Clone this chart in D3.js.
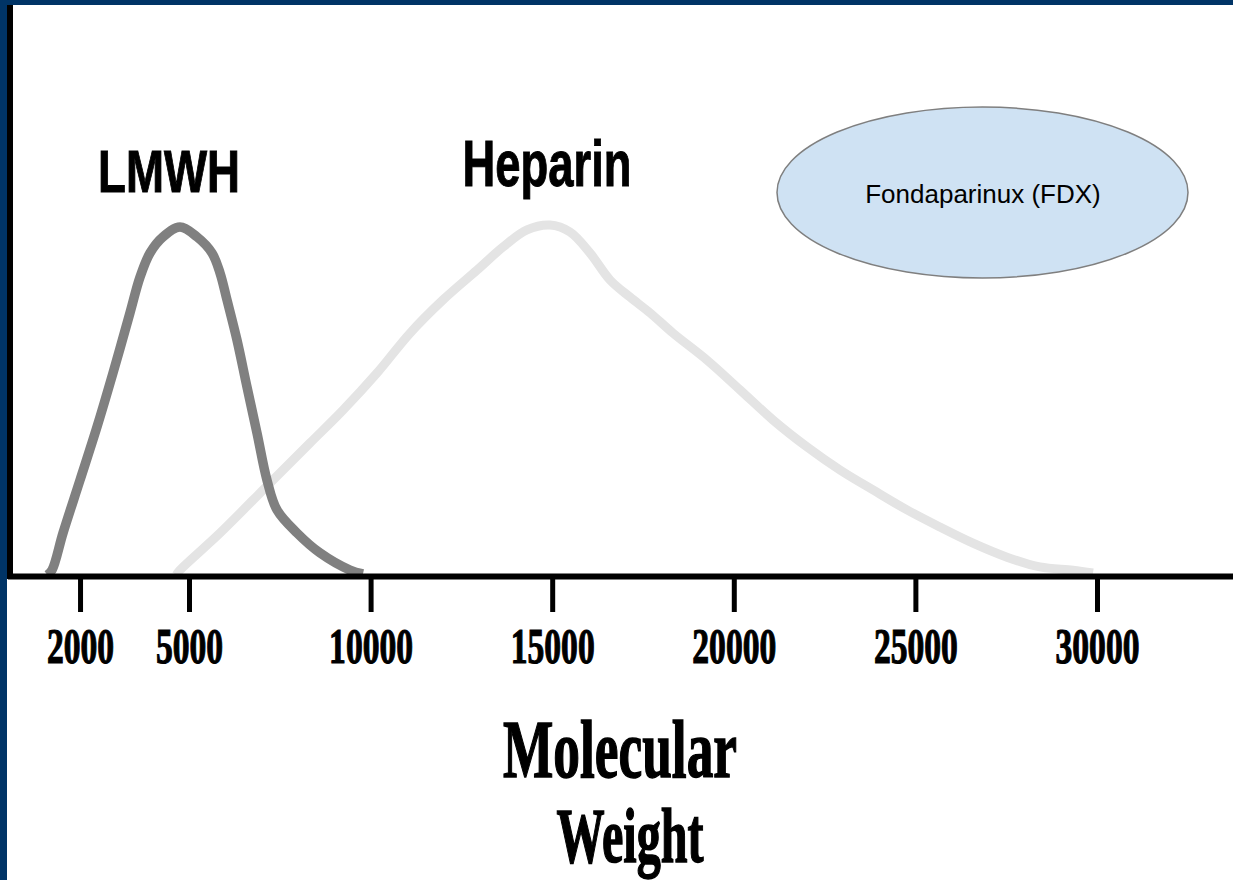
<!DOCTYPE html>
<html>
<head>
<meta charset="utf-8">
<script src="https://cdn.jsdelivr.net/npm/d3@7"></script>
<style>
  html, body { margin: 0; padding: 0; background: #fff; }
  svg { display: block; }
</style>
</head>
<body>
<svg id="chart" width="1233" height="880"></svg>
<script>
// ---- Data (molecular weight in Da, relative abundance 0-100) ----
const lmwhMW   = [1100, 1228, 1531, 1999, 2467, 2907, 3375, 3651, 3926, 4284, 4752, 5220, 5633, 5854, 6046, 6322, 6597, 6872, 7148, 7423, 7974, 8607, 9433, 9791];
const lmwhVal  = [0,    1.4,  12,   27.1, 42.3, 57.7, 74.9, 85.1, 92,   96.6, 99.4, 96.6, 92,   86.3, 78.6, 67.1, 53.7, 40.6, 27.1, 18.6, 12,   6.3,  1.4,  0.3];

const heparinMW  = [4650, 4752, 5854, 7230, 8331, 9240, 10176, 11085, 11993, 12929, 13645, 14306, 14939, 15490, 16041, 16592, 17142, 17693, 18326, 19262, 20171, 21079, 22015, 22924, 23833, 24769, 25677, 26586, 27522, 28431, 29339, 29890];
const heparinVal = [0,    1.4,  12,   26.3, 37.7, 47.1, 57.7,  69.1,  78.6,  87.1,  93.7,  98.6,  100,   98,    92,    84.3,  79.4,  74.9,  69.1,  61.4,  52.9,  44.3,  36.6,  30,    24.3,  18.6,  13.7,  9.1,   5.1,   2.3,   1.4,   0.6];

const tickValues = [2000, 5000, 10000, 15000, 20000, 25000, 30000];
const tickLabels = ["2000", "5000", "10000", "15000", "20000", "25000", "30000"];

const seriesNames = ["LMWH", "Heparin"];
const annotationText = "Fondaparinux (FDX)";
const axisTitle = ["Molecular", "Weight"];

// ---- Setup ----
const svg = d3.select("#chart");
const W = 1233, H = 880;

svg.append("rect").attr("width", W).attr("height", H).attr("fill", "#ffffff");
// navy frame (top and left)
svg.append("rect").attr("x", 0).attr("y", 0).attr("width", W).attr("height", 5).attr("fill", "#003466");
svg.append("rect").attr("x", 0).attr("y", 0).attr("width", 7).attr("height", H).attr("fill", "#003466");

const x = d3.scaleLinear().domain([0, 33745]).range([7.4, 1233]);
const y = d3.scaleLinear().domain([0, 100]).range([575, 225]);

const line = d3.line()
  .x(d => x(d[0]))
  .y(d => y(d[1]))
  .curve(d3.curveCatmullRom.alpha(0.5));

const hepData = heparinMW.map((m, i) => [m, heparinVal[i]]);
const lmwhData = lmwhMW.map((m, i) => [m, lmwhVal[i]]);

svg.append("path")
  .datum(hepData)
  .attr("d", line)
  .attr("fill", "none")
  .attr("stroke", "#e4e4e4")
  .attr("stroke-width", 9)
  .attr("stroke-linejoin", "round");

svg.append("path")
  .datum(lmwhData)
  .attr("d", line)
  .attr("fill", "none")
  .attr("stroke", "#808080")
  .attr("stroke-width", 9.5)
  .attr("stroke-linejoin", "round");

// vertical axis line
svg.append("line")
  .attr("x1", 10).attr("x2", 10)
  .attr("y1", 5).attr("y2", 579)
  .attr("stroke", "#000").attr("stroke-width", 6);

// bottom axis
const axis = d3.axisBottom(x)
  .tickValues(tickValues)
  .tickFormat((d, i) => tickLabels[i])
  .tickSize(36)
  .tickSizeOuter(0);

const gx = svg.append("g")
  .attr("transform", "translate(0,576)")
  .call(axis);

gx.select(".domain").attr("stroke", "#000").attr("stroke-width", 6);
gx.selectAll(".tick line").attr("stroke", "#000").attr("stroke-width", 5);
gx.selectAll(".tick text")
  .attr("y", 87)
  .attr("dy", 0)
  .attr("fill", "#000")
  .attr("stroke", "#000")
  .attr("stroke-width", 1.2)
  .attr("font-family", "'Liberation Serif', 'Times New Roman', serif")
  .attr("font-weight", "bold")
  .attr("font-size", 50)
  .attr("text-anchor", "middle")
  .attr("textLength", (d, i) => tickLabels[i].length * 16.8)
  .attr("lengthAdjust", "spacingAndGlyphs");

// axis title
svg.append("text")
  .attr("x", 620).attr("y", 777)
  .attr("text-anchor", "middle")
  .attr("font-family", "'Liberation Serif', 'Times New Roman', serif")
  .attr("font-weight", "bold")
  .attr("font-size", 82)
  .attr("stroke", "#000").attr("stroke-width", 1.5)
  .attr("textLength", 234)
  .attr("lengthAdjust", "spacingAndGlyphs")
  .text(axisTitle[0]);
svg.append("text")
  .attr("x", 630).attr("y", 862)
  .attr("text-anchor", "middle")
  .attr("font-family", "'Liberation Serif', 'Times New Roman', serif")
  .attr("font-weight", "bold")
  .attr("font-size", 78)
  .attr("stroke", "#000").attr("stroke-width", 1.5)
  .attr("textLength", 147)
  .attr("lengthAdjust", "spacingAndGlyphs")
  .text(axisTitle[1]);

// series labels
svg.append("text")
  .attr("x", 169).attr("y", 192)
  .attr("text-anchor", "middle")
  .attr("font-family", "'Liberation Sans', Arial, sans-serif")
  .attr("font-weight", "bold")
  .attr("font-size", 59)
  .attr("stroke", "#000").attr("stroke-width", 1)
  .attr("textLength", 142)
  .attr("lengthAdjust", "spacingAndGlyphs")
  .text(seriesNames[0]);
svg.append("text")
  .attr("x", 547).attr("y", 186)
  .attr("text-anchor", "middle")
  .attr("font-family", "'Liberation Sans', Arial, sans-serif")
  .attr("font-weight", "bold")
  .attr("font-size", 64)
  .attr("stroke", "#000").attr("stroke-width", 1)
  .attr("textLength", 169)
  .attr("lengthAdjust", "spacingAndGlyphs")
  .text(seriesNames[1]);

// Fondaparinux ellipse
svg.append("ellipse")
  .attr("cx", 982.5).attr("cy", 192.5)
  .attr("rx", 205.5).attr("ry", 85.5)
  .attr("fill", "#cfe2f3")
  .attr("stroke", "#7f7f7f")
  .attr("stroke-width", 1.5);
svg.append("text")
  .attr("x", 983).attr("y", 203)
  .attr("text-anchor", "middle")
  .attr("font-family", "'Liberation Sans', Arial, sans-serif")
  .attr("font-size", 26)
  .attr("fill", "#000")
  .text(annotationText);
</script>
</body>
</html>
